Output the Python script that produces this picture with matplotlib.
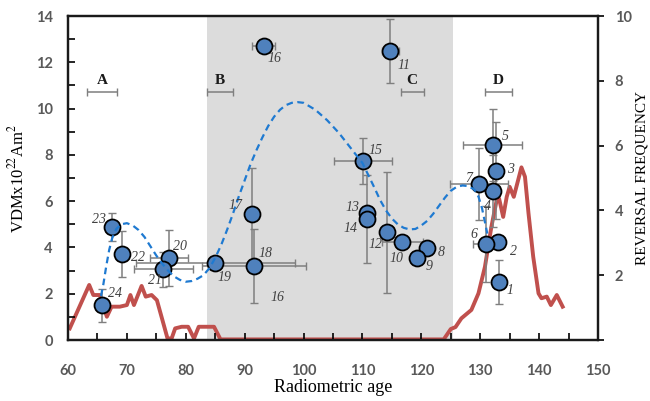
import numpy as np
import matplotlib.pyplot as plt
from matplotlib.ticker import MultipleLocator

plt.rcParams['mathtext.fontset'] = 'stix'

# sample points: age, VDM, errors
ids = ['1', '2', '3', '4', '5', '6', '7', '8', '9', '10', '11', '12',
       '13', '14', '15', '16', '17', '18', '19', '20', '21', '22', '23', '24']
age = [133.2, 133.1, 132.6, 132.2, 132.1, 131.0, 129.8, 121.0, 119.3, 116.8, 114.7, 114.2,
       110.7, 110.7, 110.1, 93.2, 91.2, 91.6, 85.0, 77.2, 76.2, 69.2, 67.5, 65.7]
vdm = [2.52, 4.22, 7.32, 6.44, 8.43, 4.15, 6.74, 3.99, 3.56, 4.22, 12.5, 4.65,
       5.47, 5.21, 7.74, 12.72, 5.44, 3.21, 3.33, 3.54, 3.05, 3.72, 4.9, 1.5]
age_err = [0, 0, 0, 0, 4.95, 2.2, 4.9, 0, 0, 3.5, 1.45, 0,
           0, 0, 5.0, 1.9, 0, 8.8, 13.5, 3.2, 5.0, 0, 0, 0]
vdm_err = [0.95, 0, 2.1, 1.55, 1.55, 1.63, 1.55, 0, 0, 0, 1.38, 2.6,
           0, 1.9, 1.0, 0, 2.0, 1.6, 0, 1.2, 0.77, 1.0, 0.6, 0.7]

# where the number labels sit
lab_x = [135.0, 135.6, 135.2, 131.3, 134.2, 129.0, 128.1, 123.4, 121.3, 115.7, 117.0, 112.3,
         108.3, 107.9, 112.2, 95.0, 88.4, 93.6, 86.5, 79.0, 74.7, 71.9, 65.3, 68.0]
lab_y = [2.16, 3.82, 7.38, 5.79, 8.79, 4.54, 7.0, 3.80, 3.17, 3.54, 11.88, 4.15,
         5.73, 4.83, 8.21, 12.17, 5.83, 3.72, 2.69, 4.03, 2.59, 3.57, 5.19, 2.02]
extra_lab = ('16', 95.5, 1.86)

# dashed VDM trend
trend_x = [65.6, 66.0, 66.5, 67.0, 67.5, 68.2, 69.0, 70.0, 71.0, 72.0, 73.0, 74.0, 75.0,
           76.0, 77.0, 78.0, 79.0, 80.0, 81.0, 82.0, 83.0, 84.0, 85.0, 86.0, 87.0,
           88.0, 89.0, 90.0, 91.0, 92.0, 93.0, 94.0, 95.0, 96.0, 97.0, 98.0, 99.0,
           100.0, 101.0, 102.0, 104.0, 106.0, 108.0, 110.0, 112.0, 113.0, 114.0,
           115.0, 116.0, 117.0, 118.0, 119.0, 120.0, 121.0, 122.0, 123.0, 124.0,
           125.0, 126.0, 127.0, 128.0, 129.0, 129.7, 130.3, 130.8, 131.2]
trend_y = [1.9, 2.4, 3.2, 3.9, 4.4, 4.8, 5.0, 5.05, 4.95, 4.75, 4.45, 4.05, 3.65,
           3.3, 3.0, 2.75, 2.6, 2.52, 2.55, 2.65, 2.8, 3.1, 3.55, 4.1, 4.75,
           5.45, 6.2, 6.9, 7.6, 8.2, 8.75, 9.25, 9.65, 9.95, 10.15, 10.25, 10.28,
           10.25, 10.1, 9.95, 9.5, 8.95, 8.3, 7.65, 6.6, 6.05, 5.6,
           5.25, 5.0, 4.85, 4.78, 4.8, 4.95, 5.15, 5.45, 5.8, 6.15,
           6.45, 6.62, 6.68, 6.65, 6.5, 6.2, 5.7, 5.1, 4.6]

# reversal frequency curve
rev_x = [60.3, 63.6, 64.3, 65.4, 66.6, 67.4, 68.8, 70.0, 70.6, 71.2, 72.5, 73.2, 74.2,
         75.1, 76.2, 76.9, 77.6, 78.2, 79.3, 80.4, 81.4, 82.2, 83.8, 84.8, 85.9,
         123.8, 125.0, 125.8, 126.8, 128.5, 129.7, 130.8, 131.9, 132.8, 133.2, 133.9,
         134.5, 135.0, 135.7, 136.3, 137.0, 137.6, 138.2, 139.0, 139.9, 140.4, 141.3,
         142.0, 143.0, 144.0]
rev_f = [0.36, 1.70, 1.39, 1.39, 0.72, 1.03, 1.03, 1.08, 1.39, 1.08, 1.67, 1.34, 1.39,
         1.23, 0.51, 0.05, 0.05, 0.36, 0.41, 0.41, 0.05, 0.41, 0.41, 0.41, 0.02,
         0.02, 0.34, 0.4, 0.67, 0.93, 1.44, 2.26, 3.5, 4.32, 4.37, 3.8,
         4.42, 4.73, 4.42, 4.84, 5.33, 5.04, 3.91, 2.57, 1.44, 1.29, 1.34,
         1.08, 1.39, 1.03]

# interval brackets
zones = ['A', 'B', 'C', 'D']
zone_mid = [65.75, 85.8, 118.45, 133.1]
zone_half = [2.55, 2.2, 1.95, 2.3]
zone_y = 10.7

fig = plt.figure(figsize=(6.5, 4.01), dpi=100)
ax = fig.add_axes([0.1046, 0.152, 0.8154, 0.808])
ax2 = ax.twinx()
ax.set_zorder(ax2.get_zorder() + 1)
ax.patch.set_visible(False)

ax2.axvspan(83.6, 125.4, color='#dcdcdc', lw=0, zorder=0)
ax2.plot(rev_x, rev_f, color='#c0504d', lw=2.8, solid_joinstyle='round', zorder=2)

ax.errorbar(age, vdm, xerr=age_err, yerr=vdm_err, fmt='none', ecolor='#7f7f7f',
            elinewidth=1.1, capsize=3, capthick=1.0, zorder=2)
ax.plot(age, vdm, 'o', ms=11.5, mfc='#4f81bd', mec='black', mew=1.3, ls='none', zorder=3)
ax.plot(trend_x, trend_y, color='#1f7ad1', lw=1.6, ls=(0, (3, 2)), zorder=4)

for t, x, y in zip(ids, lab_x, lab_y):
    ax.text(x, y, t, family='Liberation Serif', style='italic', fontsize=10,
            color='#404040', ha='center', va='center', zorder=5)
ax.text(extra_lab[1], extra_lab[2], extra_lab[0], family='Liberation Serif', style='italic',
        fontsize=10, color='#404040', ha='center', va='center', zorder=5)

ax.errorbar(zone_mid, [zone_y] * 4, xerr=zone_half, fmt='none', ecolor='#7f7f7f',
            elinewidth=1.1, capsize=3, capthick=1.0, zorder=2)
for z, m in zip(zones, zone_mid):
    ax.text(m, zone_y + 0.25, z, family='Liberation Serif', weight='bold', fontsize=11,
            color='#1a1a1a', ha='center', va='bottom')

ax.set_xlim(60, 150)
ax.set_ylim(0, 14)
ax2.set_ylim(0, 10)

ax.xaxis.set_major_locator(MultipleLocator(10))
ax.xaxis.set_minor_locator(MultipleLocator(5))
ax.yaxis.set_major_locator(MultipleLocator(2))
ax.yaxis.set_minor_locator(MultipleLocator(1))
ax.tick_params(axis='x', which='both', direction='in', length=5, width=1.2, pad=17,
               labelsize=10.5, labelcolor='#595959', top=False)
ax.tick_params(axis='y', which='both', direction='in', length=5, width=1.2, pad=11,
               labelsize=10.5, labelcolor='#595959')
ax2.set_yticks([0, 2, 4, 6, 8, 10])
ax2.set_yticklabels(['', '2', '4', '6', '8', '10'])
ax2.tick_params(axis='y', direction='out', length=4, width=1.2, pad=8,
                labelsize=10.5, labelcolor='#595959')
for a in (ax, ax2):
    for lbl in a.get_xticklabels() + a.get_yticklabels():
        lbl.set_family('Lato')
        lbl.set_weight('bold')
    for s in a.spines.values():
        s.set_linewidth(1.6)
        s.set_color('#1a1a1a')

ax.set_xlabel('Radiometric age', fontfamily='Liberation Serif', fontsize=13, labelpad=1)
ax.set_ylabel('VDMx10$^{22}$Am$^{2}$', fontfamily='Liberation Serif', fontsize=12, labelpad=6)
ax2.set_ylabel('REVERSAL FREQUENCY', fontfamily='Liberation Serif', fontsize=11, labelpad=3)

fig.savefig('out.png', dpi=100)
